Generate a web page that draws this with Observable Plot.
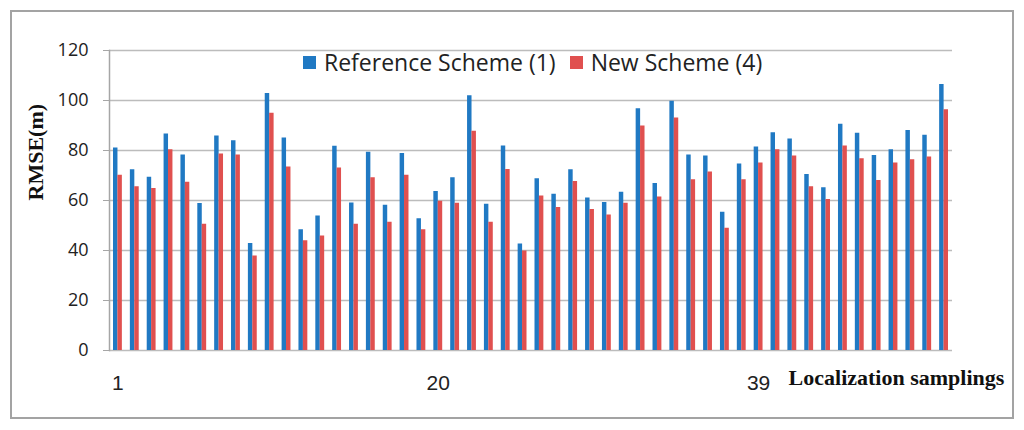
<!DOCTYPE html>
<html><head><meta charset="utf-8">
<script src="https://cdn.jsdelivr.net/npm/d3@7"></script>
<script src="https://cdn.jsdelivr.net/npm/@observablehq/plot@0.6"></script>
<style>
body{margin:0;background:#fff;}
#wrap{position:relative;width:1024px;height:430px;overflow:hidden;background:#fff;}
#wrap svg{position:absolute;left:0;top:0;}
#border{position:absolute;left:10px;top:10px;width:1004px;height:409px;border:2px solid #a3a3a3;box-sizing:border-box;pointer-events:none;}
#legend{position:absolute;left:303px;top:46px;height:32px;display:flex;align-items:center;font-family:"Open Sans",sans-serif;font-size:23px;color:#222;white-space:nowrap;}
.sw{width:13px;height:13px;margin-right:8px;display:inline-block;}
.item{display:flex;align-items:center;margin-right:14px;}
</style></head>
<body>
<div id="wrap"><div id="border"></div></div>
<script>
const samples = [1,2,3,4,5,6,7,8,9,10,11,12,13,14,15,16,17,18,19,20,21,22,23,24,25,26,27,28,29,30,31,32,33,34,35,36,37,38,39,40,41,42,43,44,45,46,47,48,49,50];
const referenceScheme = [81,72.3,69.3,86.6,78.2,58.8,85.8,83.9,42.8,102.8,
  85,48.3,53.8,81.7,59,79.3,58.1,78.8,52.7,63.6,
  69.1,101.9,58.5,81.8,42.6,68.7,62.5,72.3,61,59.2,
  63.3,96.7,66.8,99.7,78.2,77.8,55.3,74.6,81.4,87.1,
  84.6,70.4,65.1,90.5,86.9,78,80.3,88,86.1,106.4];
const newScheme = [70.1,65.5,64.8,80.3,67.3,50.5,78.6,78.2,37.8,94.9,
  73.4,43.9,45.8,73,50.5,69.1,51.3,70.1,48.3,59.7,
  58.9,87.7,51.3,72.4,39.8,61.8,57.2,67.6,56.4,54.2,
  58.9,89.8,61.4,93,68.3,71.4,48.9,68.3,75,80.3,
  77.8,65.5,60.4,81.8,76.7,68,75,76.3,77.4,96.3];
const yTicks = [0,20,40,60,80,100,120];
const xLabels = [1,20,39];
const seriesNames = ["Reference Scheme (1)","New Scheme (4)"];
const colors = ["#2079c3","#e0504f"];

const data = samples.map((s,i)=>({sample:s, ref:referenceScheme[i], nw:newScheme[i]}));

const chart = Plot.plot({
  width:1024, height:430,
  marginTop:50, marginBottom:80, marginLeft:109, marginRight:72,
  style:{background:"transparent", overflow:"visible", color:"#222"},
  x:{type:"band", domain:samples, padding:0},
  y:{domain:[0,120]},
  marks:[
    Plot.ruleY(yTicks, {stroke:"#bcbcbc", strokeWidth:1.6}),
    Plot.barY(data, {x:"sample", y:"ref", fill:colors[0], insetLeft:4, insetRight:8.4}),
    Plot.barY(data, {x:"sample", y:"nw", fill:colors[1], insetLeft:8.4, insetRight:4}),
    Plot.frame({anchor:"left", stroke:"#a6a6a6", strokeWidth:1.5}),
    Plot.axisY({ticks:yTicks, tickSize:6, tickPadding:15, label:null, fontSize:18, fontFamily:"Open Sans", stroke:"#a6a6a6"}),
    Plot.axisX({ticks:xLabels, tickSize:0, tickPadding:25, label:null, fontSize:21, fontFamily:"Liberation Sans Narrow, Liberation Sans"}),
    Plot.text(["RMSE(m)"], {frameAnchor:"left", rotate:-90, dx:-74, fontSize:22, fontWeight:"bold", fontFamily:"Liberation Serif", fill:"#111"}),
    Plot.text(["Localization samplings"], {x:()=>xLabels[2], frameAnchor:"bottom", dy:34, dx:30, textAnchor:"start", fontSize:22, fontWeight:"bold", fontFamily:"Liberation Serif", fill:"#111"})
  ]
});
const wrap = document.getElementById("wrap");
wrap.insertBefore(chart, wrap.firstChild);

const legend = document.createElement("div");
legend.id = "legend";
seriesNames.forEach((n,i)=>{
  const it = document.createElement("div"); it.className="item";
  const sw = document.createElement("span"); sw.className="sw"; sw.style.background=colors[i];
  const t = document.createElement("span"); t.textContent=n;
  it.appendChild(sw); it.appendChild(t); legend.appendChild(it);
});
wrap.appendChild(legend);
</script>
</body></html>
